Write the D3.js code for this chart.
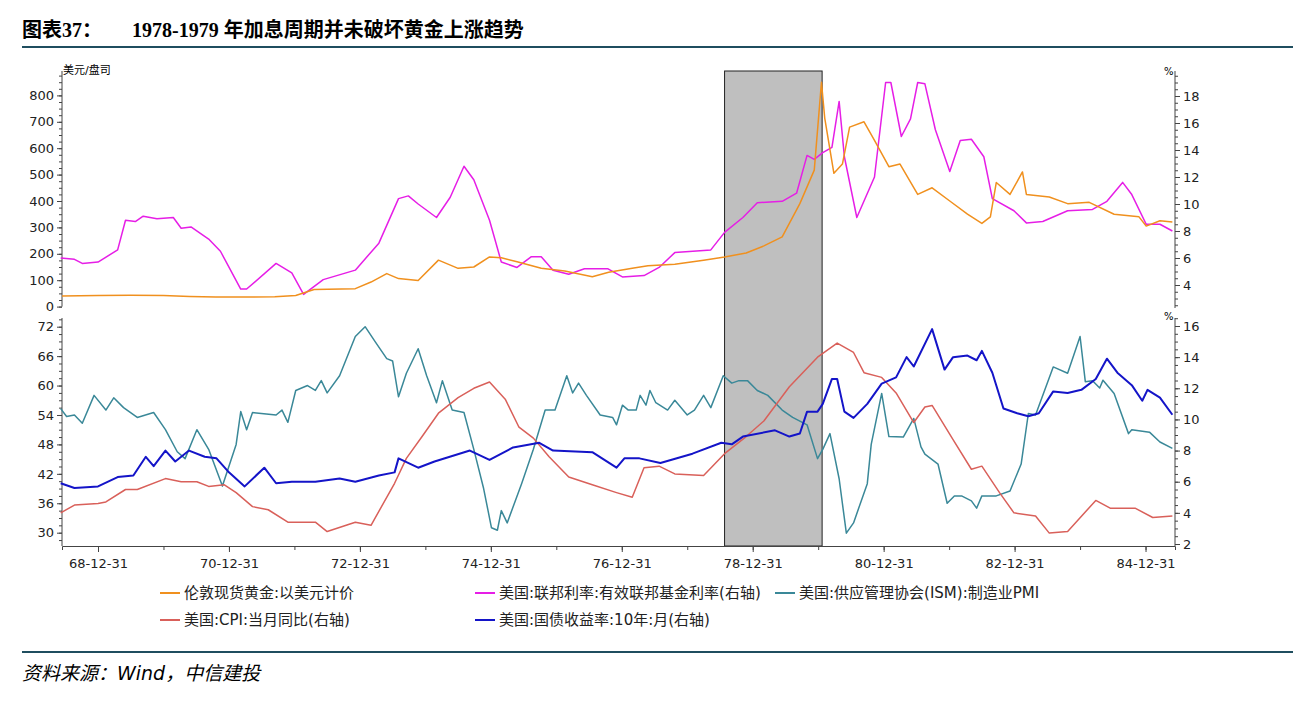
<!DOCTYPE html>
<html>
<head>
<meta charset="utf-8">
<script src="https://cdn.jsdelivr.net/npm/d3@7"></script>
<style>
  body { margin: 0; background: #fff; }
  svg text { font-family: "DejaVu Sans", "Noto Sans CJK SC", sans-serif; }
</style>
</head>
<body>
<div id="chart-area"></div>
<script>
// time in decimal years (68-12-31 == 69.0)
const goldT = [68.45,69.0,69.5,70.0,70.4,70.8,71.3,71.7,72.02,72.3,72.93,73.17,73.41,73.59,73.89,74.2,74.5,74.74,74.98,75.16,75.4,75.77,76.13,76.55,76.8,77.16,77.4,77.81,78.25,78.57,78.9,79.17,79.45,79.72,79.94,80.05,80.1,80.24,80.37,80.48,80.7,80.86,81.08,81.25,81.52,81.74,82.01,82.28,82.5,82.63,82.72,82.93,83.12,83.18,83.53,83.81,84.14,84.52,84.9,85.01,85.22,85.41];
const goldV = [40,42,43,42,38,36,36,37,42,65,68,93,125,106,99,176,145,150,188,185,170,145,135,113,130,145,155,160,176,188,203,230,264,390,517,850,714,505,540,680,700,630,530,540,425,450,400,350,315,340,470,425,510,425,415,390,395,350,340,305,325,320];

const fedT = [68.43,68.64,68.76,69.0,69.3,69.42,69.57,69.69,69.9,70.15,70.27,70.42,70.69,70.87,71.18,71.27,71.72,71.96,72.14,72.44,72.93,73.29,73.59,73.74,73.89,74.17,74.38,74.59,74.74,74.98,75.16,75.4,75.62,75.77,75.95,76.19,76.43,76.79,77.01,77.34,77.57,77.81,78.36,78.57,78.85,79.07,79.45,79.67,79.83,79.94,80.07,80.21,80.32,80.4,80.59,80.86,81.03,81.11,81.27,81.41,81.52,81.63,81.79,82.01,82.17,82.34,82.53,82.66,82.99,83.18,83.43,83.81,84.19,84.41,84.65,84.79,85.01,85.22,85.41];
const fedV = [6.0,5.9,5.6,5.7,6.6,8.8,8.7,9.1,8.9,9.0,8.2,8.3,7.4,6.5,3.7,3.7,5.6,4.9,3.3,4.4,5.1,7.1,10.4,10.6,10.0,9.0,10.5,12.8,11.8,8.8,5.7,5.3,6.1,6.1,5.1,4.8,5.2,5.2,4.6,4.7,5.3,6.4,6.6,7.9,9.0,10.1,10.2,10.8,13.6,13.3,13.8,14.2,17.6,13.5,9.0,12.0,19.0,19.0,15.0,16.3,19.0,18.9,15.5,12.4,14.7,14.8,13.5,10.4,9.5,8.6,8.7,9.5,9.6,10.2,11.6,10.7,8.5,8.5,8.0];

const pmiT = [68.43,68.52,68.64,68.76,68.94,69.12,69.24,69.39,69.6,69.85,70.03,70.21,70.33,70.51,70.69,70.9,71.11,71.18,71.27,71.36,71.72,71.81,71.9,72.02,72.2,72.32,72.41,72.5,72.69,72.93,73.08,73.23,73.41,73.5,73.59,73.71,73.89,74.02,74.17,74.26,74.41,74.59,74.74,74.89,75.01,75.1,75.16,75.25,75.47,75.65,75.83,75.98,76.16,76.25,76.34,76.46,76.67,76.86,76.92,77.01,77.1,77.22,77.28,77.37,77.43,77.52,77.7,77.81,78.0,78.11,78.25,78.36,78.55,78.68,78.79,78.92,79.07,79.23,79.45,79.61,79.83,79.99,80.07,80.18,80.32,80.43,80.54,80.75,80.81,80.97,81.08,81.3,81.46,81.57,81.63,81.83,81.97,82.08,82.19,82.34,82.42,82.5,82.72,82.93,83.1,83.21,83.32,83.59,83.81,84.0,84.08,84.19,84.3,84.35,84.52,84.74,84.79,85.06,85.22,85.41];
const pmiV = [55.3,53.7,54,52.3,58,55,57.5,55.5,53.5,54.5,51,46.5,45.1,51,47,39.5,48,54.7,51,54.5,54,55,52.5,59,60,59,61,58.5,62,70,72,69,65.5,65,57.7,62.5,67.5,62,56.5,61,55,54.5,47,39,31,30.5,34.5,32,40,47,55,55,62,58.5,60.5,58,54,53.5,52,56,55,55,58,56,59,56.5,55,57,54,55,58,55.5,62,60.5,61,61,59,58,55,53.5,52,45.1,47,50.2,41,29.9,32,40,48,58.4,49.6,49.5,53.3,47.5,46,44,36,37.5,37.5,36.5,35,37.5,37.5,38.5,44,54.3,54,63.8,62.5,70,60.8,61,59.5,61.1,58.4,50.2,51,50.5,48.5,47.2];

const cpiT = [68.43,68.64,69.0,69.12,69.42,69.6,70.03,70.27,70.51,70.69,70.93,71.11,71.36,71.6,71.9,72.32,72.5,72.93,73.17,73.53,73.71,73.95,74.2,74.5,74.74,74.98,75.22,75.43,75.65,75.89,76.19,76.55,76.92,77.16,77.34,77.57,77.81,78.25,78.57,78.9,79.17,79.56,79.99,80.29,80.54,80.7,80.97,81.19,81.46,81.63,81.74,82.06,82.34,82.5,82.77,82.99,83.32,83.53,83.81,84.24,84.46,84.84,85.11,85.41];
const cpiV = [4.0,4.5,4.6,4.7,5.5,5.5,6.2,6.0,6.0,5.7,5.8,5.3,4.4,4.2,3.4,3.4,2.8,3.4,3.2,5.9,7.5,8.9,10.4,11.4,12.0,12.4,11.3,9.5,8.8,7.6,6.3,5.8,5.3,5.0,6.9,7.0,6.5,6.4,7.8,8.9,9.9,12.1,14.0,14.9,14.3,13.0,12.7,11.7,9.8,10.8,10.9,8.7,6.8,7.0,5.3,4.0,3.8,2.7,2.8,4.8,4.3,4.3,3.7,3.8];

const tsyT = [68.43,68.64,69.0,69.3,69.54,69.73,69.85,70.03,70.18,70.39,70.63,70.81,71.0,71.24,71.54,71.72,71.96,72.32,72.69,72.93,73.29,73.53,73.59,73.89,74.14,74.68,74.98,75.34,75.74,75.95,76.55,76.92,77.04,77.27,77.59,78.08,78.52,78.68,78.85,79.34,79.56,79.72,79.83,79.99,80.07,80.21,80.29,80.4,80.54,80.75,80.97,81.19,81.35,81.46,81.74,81.93,82.06,82.28,82.42,82.5,82.66,82.83,83.04,83.21,83.37,83.59,83.81,84.02,84.24,84.41,84.57,84.79,84.95,85.03,85.22,85.41];
const tsyV = [5.9,5.6,5.7,6.3,6.4,7.6,7.0,8.0,7.3,8.0,7.6,7.5,6.6,5.7,6.9,5.9,6.0,6.0,6.2,6.0,6.4,6.6,7.5,6.9,7.3,8.0,7.4,8.2,8.5,8.0,7.9,6.9,7.5,7.5,7.2,7.8,8.5,8.4,8.9,9.3,8.9,9.1,10.5,10.5,11.0,12.6,12.6,10.5,10.1,11.0,12.3,12.7,14.0,13.4,15.8,13.2,14.0,14.1,13.8,14.4,13.0,10.7,10.4,10.2,10.4,11.8,11.7,11.9,12.6,13.9,13.0,12.2,11.2,11.9,11.4,10.3];

const xTickVals = [69,71,73,75,77,79,81,83,85];
const xTickLabels = ["68-12-31","70-12-31","72-12-31","74-12-31","76-12-31","78-12-31","80-12-31","82-12-31","84-12-31"];
const shade = [78.57, 80.06];

const legendItems = [
  ["伦敦现货黄金:以美元计价", "#f0901e"],
  ["美国:联邦利率:有效联邦基金利率(右轴)", "#e61ee6"],
  ["美国:供应管理协会(ISM):制造业PMI", "#3a8898"],
  ["美国:CPI:当月同比(右轴)", "#d9605a"],
  ["美国:国债收益率:10年:月(右轴)", "#1414c8"]
];

const svg = d3.select("#chart-area").append("svg")
  .attr("width", 1306).attr("height", 705);

// title & frame lines
const title = svg.append("text").attr("x", 22).attr("y", 37)
  .attr("font-size", 20).attr("font-weight", "bold")
  .style("font-family", "'Liberation Serif', 'Noto Sans CJK SC', serif");
title.append("tspan").text("图表37：");
title.append("tspan").attr("x", 132).text("1978-1979 年加息周期并未破坏黄金上涨趋势");
svg.append("line").attr("x1", 22).attr("x2", 1293).attr("y1", 47).attr("y2", 47)
  .attr("stroke", "#1f4e5f").attr("stroke-width", 2);
svg.append("line").attr("x1", 22).attr("x2", 1293).attr("y1", 652).attr("y2", 652)
  .attr("stroke", "#1f4e5f").attr("stroke-width", 2);
svg.append("text").attr("x", 22).attr("y", 680).attr("font-size", 19)
  .attr("font-style", "italic").text("资料来源：Wind，中信建投");

const L = 62, R = 1175;
const x = d3.scaleLinear().domain([68.45, 85.45]).range([L, R]);

const yGold = d3.scaleLinear().domain([0, 800]).range([306.6, 95.4]);
const yFed = d3.scaleLinear().domain([4, 18]).range([285, 96]);
const yPmi = d3.scaleLinear().domain([30, 72]).range([532.7, 326.7]);
const yPct = d3.scaleLinear().domain([2, 16]).range([544, 326]);

// shaded period
svg.append("rect")
  .attr("x", x(shade[0])).attr("y", 71)
  .attr("width", x(shade[1]) - x(shade[0])).attr("height", 546 - 71)
  .attr("fill", "#bfbfbf").attr("stroke", "#222").attr("stroke-width", 1);

// axes
function styleAxis(g) {
  g.selectAll("text").attr("font-size", 13).attr("fill", "#222");
  g.selectAll("line,path").attr("stroke", "#444");
}
function minor(g, scale, orient, step, lo, hi) {
  const vals = d3.range(lo, hi + 1e-9, step);
  g.call((orient === "left" ? d3.axisLeft(scale) : d3.axisRight(scale))
    .tickValues(vals).tickSize(3).tickFormat(""));
}
const gl1 = svg.append("g").attr("transform", `translate(${L},0)`);
minor(gl1, yGold, "left", 25, 0, 875);
gl1.select(".domain").attr("d", `M0,71V306.6`);
const gl1m = svg.append("g").attr("transform", `translate(${L},0)`)
  .call(d3.axisLeft(yGold).tickValues(d3.range(0, 801, 100)).tickSize(5));
gl1m.select(".domain").remove();
styleAxis(gl1); styleAxis(gl1m);

const gr1 = svg.append("g").attr("transform", `translate(${R},0)`);
minor(gr1, yFed, "right", 0.5, 2.5, 19.5);
gr1.select(".domain").attr("d", `M0,71V308`);
const gr1m = svg.append("g").attr("transform", `translate(${R},0)`)
  .call(d3.axisRight(yFed).tickValues(d3.range(4, 19, 2)).tickSize(5));
gr1m.select(".domain").remove();
styleAxis(gr1); styleAxis(gr1m);

const gl2 = svg.append("g").attr("transform", `translate(${L},0)`);
minor(gl2, yPmi, "left", 1.5, 28.5, 73.5);
gl2.select(".domain").attr("d", `M0,318V546`);
const gl2m = svg.append("g").attr("transform", `translate(${L},0)`)
  .call(d3.axisLeft(yPmi).tickValues(d3.range(30, 73, 6)).tickSize(5));
gl2m.select(".domain").remove();
styleAxis(gl2); styleAxis(gl2m);

const gr2 = svg.append("g").attr("transform", `translate(${R},0)`);
minor(gr2, yPct, "right", 0.5, 2, 16.5);
gr2.select(".domain").attr("d", `M0,318V546`);
const gr2m = svg.append("g").attr("transform", `translate(${R},0)`)
  .call(d3.axisRight(yPct).tickValues(d3.range(2, 17, 2)).tickSize(5));
gr2m.select(".domain").remove();
styleAxis(gr2); styleAxis(gr2m);

const gx = svg.append("g").attr("transform", "translate(0,546)")
  .call(d3.axisBottom(x).tickValues(d3.range(69, 86, 1)).tickSize(4).tickFormat(""));
const gxm = svg.append("g").attr("transform", "translate(0,546)")
  .call(d3.axisBottom(x).tickValues(xTickVals).tickSize(6)
    .tickFormat((d, i) => xTickLabels[i]));
gxm.select(".domain").remove();
styleAxis(gx); styleAxis(gxm);
gxm.selectAll("text").attr("dy", "1em");

svg.append("text").attr("x", 63).attr("y", 74).attr("font-size", 11).text("美元/盘司");
svg.append("text").attr("x", 1164).attr("y", 75).attr("font-size", 10).text("%");
svg.append("text").attr("x", 1164).attr("y", 320).attr("font-size", 10).text("%");

// lines
function drawLine(ts, vs, ys, color, w) {
  const pts = ts.map((t, i) => [t, vs[i]]);
  svg.append("path").datum(pts)
    .attr("fill", "none").attr("stroke", color).attr("stroke-width", w)
    .attr("stroke-linejoin", "round")
    .attr("d", d3.line().x(d => x(d[0])).y(d => ys(d[1])));
}
drawLine(fedT, fedV, yFed, legendItems[1][1], 1.5);
drawLine(goldT, goldV, yGold, legendItems[0][1], 1.5);
drawLine(pmiT, pmiV, yPmi, legendItems[2][1], 1.5);
drawLine(cpiT, cpiV, yPct, legendItems[3][1], 1.5);
drawLine(tsyT, tsyV, yPct, legendItems[4][1], 2);

// legend
const legPos = [[160, 593], [475, 593], [775, 593], [160, 620], [475, 620]];
legendItems.forEach((d, i) => {
  const [lx, ly] = legPos[i];
  svg.append("line").attr("x1", lx).attr("x2", lx + 20).attr("y1", ly).attr("y2", ly)
    .attr("stroke", d[1]).attr("stroke-width", 2);
  svg.append("text").attr("x", lx + 24).attr("y", ly + 5)
    .attr("font-size", 15).attr("fill", "#222").text(d[0]);
});
</script>
</body>
</html>
